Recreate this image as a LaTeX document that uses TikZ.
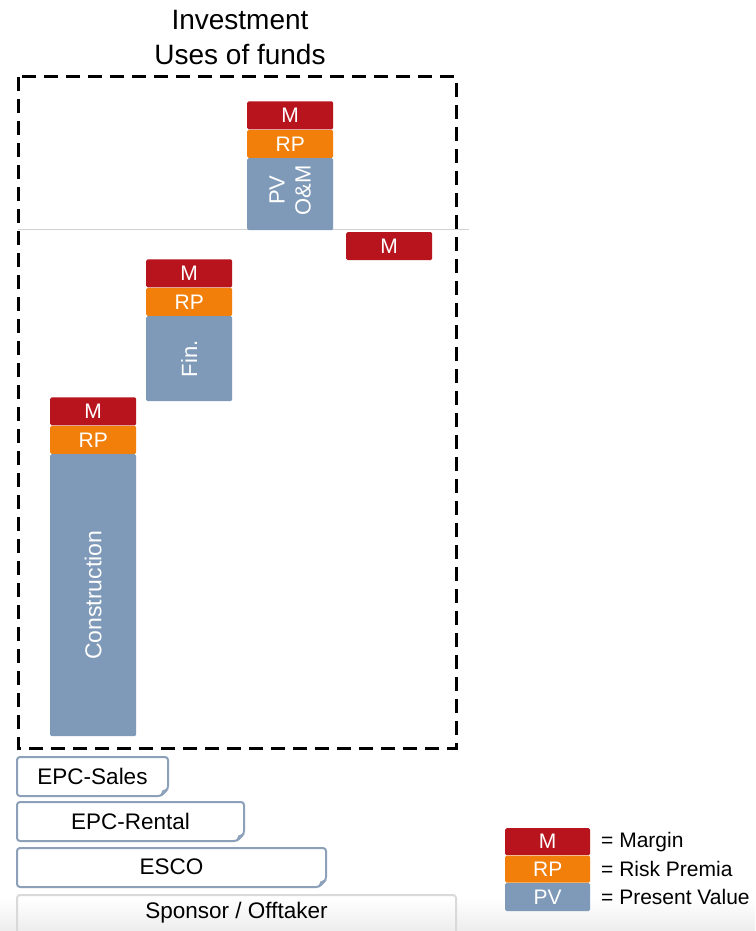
\documentclass[tikz,border=0pt]{standalone}
\usepackage{fontspec}
\setmainfont{Liberation Sans}
\usetikzlibrary{calc}
\definecolor{mred}{HTML}{B8141E}
\definecolor{rporange}{HTML}{F17F0A}
\definecolor{pvblue}{HTML}{7F9AB8}
\definecolor{edgeblue}{HTML}{8CA0BA}
\definecolor{sepgray}{HTML}{D0D0D0}
\tikzset{
  bar/.style={minimum width=86pt, inner sep=0pt, rounded corners=1.5pt, text=white, font=\fontsize{21}{24}\selectfont},
  mbar/.style={bar, fill=mred, minimum height=28pt},
  rpbar/.style={bar, fill=rporange, minimum height=28pt},
  pvbar/.style={bar, fill=pvblue},
  ptype/.style={inner sep=0pt, font=\fontsize{22.5}{26}\selectfont},
  fold/.style={draw=edgeblue, line width=2pt, rounded corners=3pt, fill=white},
  legtxt/.style={anchor=west, inner sep=0pt, font=\fontsize{21}{24}\selectfont},
}
\begin{document}
\begin{tikzpicture}[x=1pt,y=-1pt]
\useasboundingbox (0,0) rectangle (755,931);
\fill[white] (0,0) rectangle (755,931);
\shade[top color=white, bottom color=black!7] (0,898) rectangle (755,931);

% heading
\node[font=\fontsize{28}{35}\selectfont, align=center, inner sep=0pt] (title) at (240,38) {Investment\\Uses of funds};

% split between investment and operation
\draw[sepgray, line width=1pt] (18,229) coordinate (sepl) -- (469,229) coordinate (sepr);

% dashed frame of the uses of funds
\draw[line width=3pt, dash pattern=on 14pt off 8pt] (18,77) rectangle (456,748);
\node[inner sep=0pt] (frame) at (237,412.5) {};

% construction column
\node[pvbar, minimum height=282pt, anchor=north west] (conpv) at (50,454) {};
\node[rpbar, anchor=south] (conrp) at (conpv.north) {RP};
\node[mbar, anchor=south] (conm) at (conrp.north) {M};
\node[rotate=90, text=white, font=\fontsize{23}{26}\selectfont] (conlab) at (conpv.center) {Construction};

% financing column
\node[pvbar, minimum height=85pt, anchor=north west] (finpv) at (146,316) {};
\node[rpbar, anchor=south] (finrp) at (finpv.north) {RP};
\node[mbar, anchor=south] (finm) at (finrp.north) {M};
\node[rotate=90, text=white, font=\fontsize{22}{24}\selectfont] (finlab) at (finpv.center) {Fin.};

% operation and maintenance column
\node[pvbar, minimum height=72pt, anchor=north west] (ompv) at (247,158) {};
\node[rpbar, anchor=south] (omrp) at (ompv.north) {RP};
\node[mbar, anchor=south] (omm) at (omrp.north) {M};
\node[rotate=90, text=white, align=center, font=\fontsize{22}{26}\selectfont] (omlab) at ($(ompv.center)+(0,-4)$) {PV\\O\&M};

% standalone margin
\node[mbar, anchor=north west] (lonem) at (346,232) {M};

% business models
\foreach \n/\xr/\yt/\t in {sales/168/757/EPC-Sales, rental/244/802/EPC-Rental, esco/326/848/ESCO}{
  \draw[fold] (17,\yt) -- (\xr,\yt) -- (\xr,\yt+32) -- (\xr-7,\yt+39) -- (17,\yt+39) -- cycle;
  \draw[edgeblue, line width=1.5pt] (\xr,\yt+32) -- (\xr-5,\yt+34) -- (\xr-7,\yt+39);
  \node[ptype] (\n) at ({(17+\xr)/2},\yt+19) {\t};
}
\draw[draw=black!15, line width=2pt, rounded corners=3pt] (17,945) -- (17,895) -- (456,895) -- (456,945);
\node[ptype] (sponsor) at (236.5,913) {Sponsor / Offtaker};

% legend
\node[mbar, minimum width=85pt, minimum height=27pt, anchor=north west] (legm) at (505,828) {M};
\node[rpbar, minimum width=85pt, minimum height=27pt, anchor=north] (legrp) at (legm.south) {RP};
\node[pvbar, minimum width=85pt, minimum height=28pt, anchor=north] (legpv) at (legrp.south) {PV};
\node[legtxt] (legmt) at (601,842) {= Margin};
\node[legtxt] (legrpt) at (601,869) {= Risk Premia};
\node[legtxt] (legpvt) at (601,897) {= Present Value};
\end{tikzpicture}
\end{document}
